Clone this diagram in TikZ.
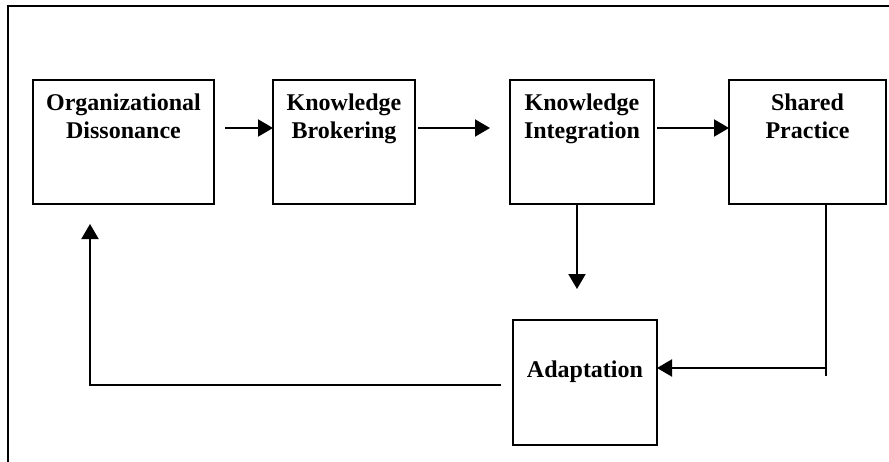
\documentclass[tikz,border=0pt]{standalone}
\usepackage{fontspec}
\setmainfont{Liberation Serif}
\usetikzlibrary{arrows.meta,positioning}

\begin{document}
\begin{tikzpicture}[x=1pt,y=-1pt,
  box/.style={draw, line width=2.5pt, outer sep=0pt, minimum height=124pt},
  lbl/.style={align=center, inner sep=0pt, font=\bfseries\fontsize{24}{27.5}\selectfont},
  arr/.style={line width=2pt, -{Triangle[length=15pt,width=17pt]}},
  line/.style={line width=2pt}]
 \useasboundingbox (0,0) rectangle (889,461);
 \clip (0,0) rectangle (889,461);
 \draw[line width=2pt] (8,6) rectangle (895,470);
 % boxes
 \node[box, minimum width=181pt] (od) at (123.5,142) {};
 \node[box, minimum width=142pt] (kb) at (344,142) {};
 \node[box, minimum width=144pt] (ki) at (582,142) {};
 \node[box, minimum width=157pt] (sp) at (807.5,142) {};
 \node[box, minimum width=144pt, minimum height=125pt] (ad) at (585,382.5) {};
 % texts
 \node[lbl, below=14pt of od.north] {Organizational\\Dissonance};
 \node[lbl, below=14pt of kb.north] {Knowledge\\Brokering};
 \node[lbl, below=14pt of ki.north] {Knowledge\\Integration};
 \node[lbl, below=14pt of sp.north] {Shared\\Practice};
 \node[lbl, below=41pt of ad.north] {Adaptation};
 % arrows
 \draw[arr] ([xshift=11pt,yshift=14pt]od.east) -- ([yshift=14pt]kb.west);
 \draw[arr] ([xshift=3pt,yshift=14pt]kb.east) -- ([xshift=-20pt,yshift=14pt]ki.west);
 \draw[arr] ([xshift=3pt,yshift=14pt]ki.east) -- ([yshift=14pt]sp.west);
 \draw[arr] ([xshift=-5pt]ki.south) -- ([xshift=-8pt,yshift=31pt]ad.north);
 \coordinate (spturn) at (826,368);
 \draw[line] (sp.south -| spturn) -- ([yshift=-8pt]spturn);
 \draw[arr] (spturn) -- (spturn -| ad.east);
 \coordinate (adturn) at (90,385);
 \draw[arr] ([xshift=-12pt]ad.west |- adturn) -- (adturn) -- ([yshift=-20pt]adturn |- od.south);
\end{tikzpicture}
\end{document}
